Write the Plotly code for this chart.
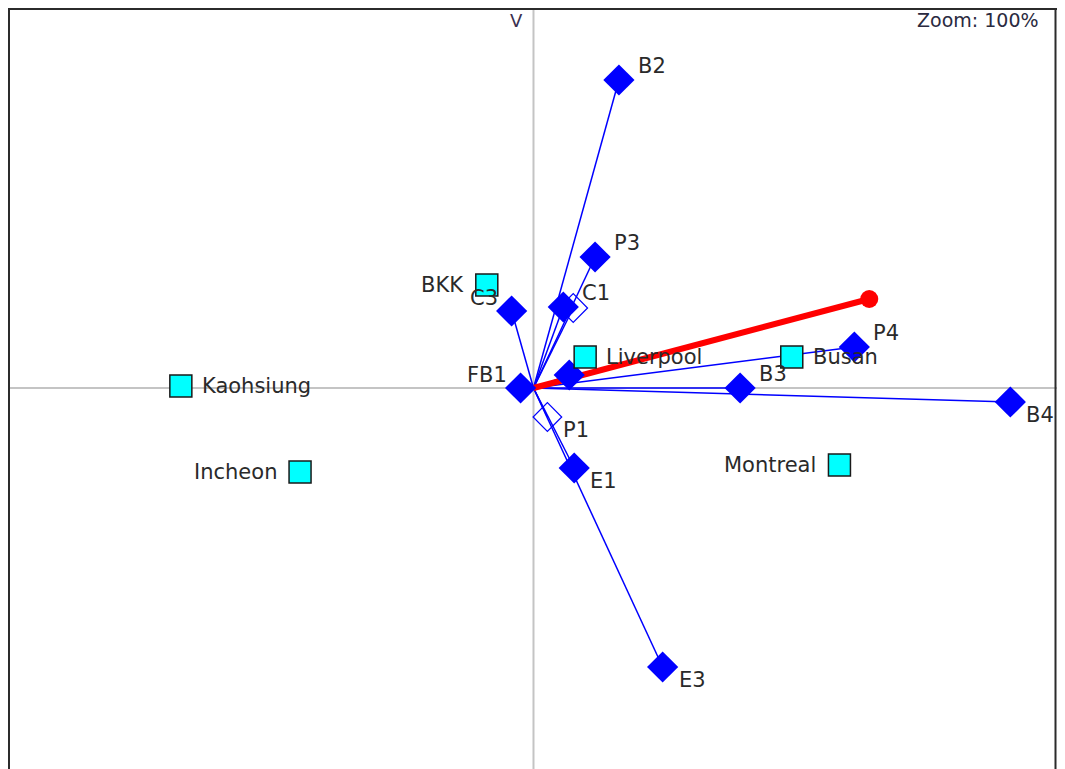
import plotly.graph_objects as go

# Variables (filled diamonds), biplot coordinates
var_names = ["B2", "P3", "C1", "C3", "B1", "P4", "B3", "B4", "E1", "E3", "B5"]
var_x = [0.86, 0.62, 0.30, -0.22, -0.13, 3.23, 2.08, 4.80, 0.41, 1.30, 0.36]
var_y = [3.08, 1.31, 0.81, 0.77, 0.00, 0.41, 0.00, -0.14, -0.80, -2.79, 0.13]

# Supplementary variables (open diamonds)
sup_names = ["P1", "C2"]
sup_x = [0.14, 0.40]
sup_y = [-0.29, 0.80]

# Cases (cyan squares)
case_names = ["BKK", "Liverpool", "Busan", "Kaohsiung", "Incheon", "Montreal"]
case_x = [-0.47, 0.52, 2.60, -3.55, -2.35, 3.08]
case_y = [1.03, 0.31, 0.31, 0.02, -0.84, -0.77]

# Highlighted vector (red)
red_x = [3.38]
red_y = [0.89]

# ---- label placement (style) ----
label_place = {
    "B2": "tr", "P3": "tr", "C1": "tr", "C3": "tl", "B1": "tl", "P4": "tr",
    "B3": "tr", "B4": "br", "E1": "br", "E3": "br", "P1": "br",
    "BKK": "ml", "Liverpool": "mr", "Busan": "mr", "Kaohsiung": "mr",
    "Incheon": "ml", "Montreal": "ml",
}
label_text = {"B1": "FB1"}
place_cfg = {
    "tr": dict(xanchor="left", yanchor="middle", xshift=17, yshift=14),
    "br": dict(xanchor="left", yanchor="middle", xshift=14, yshift=-13),
    "tl": dict(xanchor="right", yanchor="middle", xshift=-12, yshift=13),
    "mr": dict(xanchor="left", yanchor="middle", xshift=19, yshift=0),
    "ml": dict(xanchor="right", yanchor="middle", xshift=-21, yshift=0),
}
FONT = "DejaVu Sans"
W, H = 1049, 761   # page body has an 8px margin on each side


def px(xs):
    return min((xs - 8) / (W + 7), 1.0)


def py(ys):
    return 1 - (ys - 8) / H


fig = go.Figure()

# lines from origin to each variable
lx, ly = [], []
for x, y in zip(var_x + sup_x, var_y + sup_y):
    lx += [0, x, None]
    ly += [0, y, None]
fig.add_trace(go.Scatter(x=lx, y=ly, mode="lines",
                         line=dict(color="#0000ff", width=1.5),
                         hoverinfo="skip", showlegend=False))

# red vector
fig.add_trace(go.Scatter(x=[0, red_x[0]], y=[0, red_y[0]], mode="lines",
                         line=dict(color="#ff0000", width=6),
                         hoverinfo="skip", showlegend=False))
fig.add_trace(go.Scatter(x=red_x, y=red_y, mode="markers",
                         marker=dict(color="#ff0000", size=18, symbol="circle"),
                         showlegend=False))

# open diamonds
fig.add_trace(go.Scatter(x=sup_x, y=sup_y, mode="markers",
                         marker=dict(symbol="diamond-open", size=22, color="#0000ff",
                                     line=dict(width=1.2, color="#0000ff")),
                         showlegend=False))
# filled diamonds
fig.add_trace(go.Scatter(x=var_x, y=var_y, mode="markers",
                         marker=dict(symbol="diamond", size=24, color="#0000ff",
                                     line=dict(width=0)),
                         showlegend=False))
# squares
fig.add_trace(go.Scatter(x=case_x, y=case_y, mode="markers",
                         marker=dict(symbol="square", size=22, color="#00ffff",
                                     line=dict(width=1.5, color="#1a1a1a")),
                         showlegend=False))

annotations = []
for names, xs, ys in [(var_names, var_x, var_y), (sup_names, sup_x, sup_y),
                      (case_names, case_x, case_y)]:
    for n, x, y in zip(names, xs, ys):
        if n not in label_place:
            continue
        cfg = place_cfg[label_place[n]]
        annotations.append(dict(x=x, y=y, text=label_text.get(n, n), showarrow=False,
                                font=dict(family=FONT, size=21, color="#2a2a2a"),
                                **cfg))

annotations.append(dict(xref="paper", yref="paper", x=px(520), y=py(20),
                        text="V", showarrow=False, xanchor="center", yanchor="middle",
                        font=dict(family=FONT, size=18, color="#3a3050")))
annotations.append(dict(xref="paper", yref="paper", x=px(1048), y=py(20),
                        text="Zoom: 100%", showarrow=False, xanchor="right", yanchor="middle",
                        font=dict(family=FONT, size=19, color="#2a2a40")))

shapes = [
    # axes through origin
    dict(type="line", xref="paper", yref="y", x0=px(9), x1=1, y0=0, y1=0,
         line=dict(color="#c4c4c4", width=2), layer="below"),
    dict(type="line", xref="x", yref="paper", x0=0, x1=0, y0=0, y1=1,
         line=dict(color="#c4c4c4", width=2), layer="below"),
    # frame
    dict(type="line", xref="paper", yref="paper", x0=px(9), x1=px(9), y0=0, y1=1,
         line=dict(color="#2b2b2b", width=2)),
    dict(type="line", xref="paper", yref="paper", x0=0, x1=1,
         y0=1 - 1 / H, y1=1 - 1 / H, line=dict(color="#2b2b2b", width=2)),
    dict(type="line", xref="paper", yref="paper", x0=(W - 1.5) / W, x1=(W - 1.5) / W, y0=0, y1=1,
         line=dict(color="#2b2b2b", width=2)),
]

fig.update_layout(
    width=W, height=H,
    margin=dict(l=0, r=0, t=0, b=0),
    paper_bgcolor="white", plot_bgcolor="white",
    xaxis=dict(range=[-5.29, 5.27], visible=False, fixedrange=True),
    yaxis=dict(range=[-3.81, 3.80], visible=False, fixedrange=True),
    annotations=annotations, shapes=shapes, showlegend=False,
)

fig.write_html("out.html")
